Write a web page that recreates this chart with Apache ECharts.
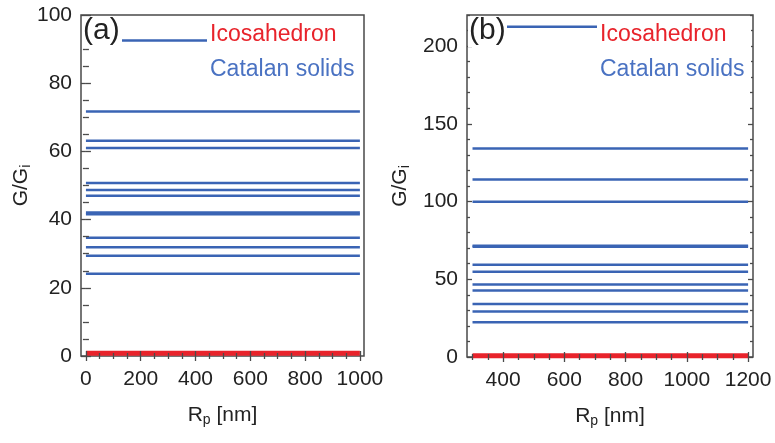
<!DOCTYPE html>
<html><head><meta charset="utf-8">
<script src="https://cdn.jsdelivr.net/npm/echarts@6/dist/echarts.min.js"></script>
<style>html,body{margin:0;padding:0;background:#fff}#c{width:775px;height:443px}</style>
</head><body><div id="c"></div>
<script>
// ---- data ----
const rangeA = [0, 1000];                       // R_p extent of lines, panel (a)
const catalanA = [92.5, 71.7, 63.1, 61.0, 50.7, 48.7, 47.0, 42.1, 41.6, 34.7, 31.9, 29.4, 24.1];
const icosaA = [0.8];
const rangeB = [300, 1200];                     // R_p extent of lines, panel (b)
const catalanB = [212.5, 134.1, 114.2, 99.8, 71.6, 70.9, 59.4, 54.9, 46.7, 42.7, 34.1, 29.2, 22.3];
const icosaB = [0.8];
const xTicksA = [0, 200, 400, 600, 800, 1000];
const yTicksA = [0, 20, 40, 60, 80, 100];
const xTicksB = [400, 600, 800, 1000, 1200];
const yTicksB = [0, 50, 100, 150, 200];
const legendLabels = ['Icosahedron', 'Catalan solids'];
const panelLabels = ['(a)', '(b)'];

const BLUE = '#3a64b4', RED = '#e8232b', FRAME = '#4a4a4a', TXT = '#222';
const FONT = '"Liberation Sans", Arial, sans-serif';

function minors(from, to, step, majors) {
  const r = [];
  for (let v = from; v <= to + 1e-9; v += step) if (!majors.includes(v)) r.push(v);
  return r;
}

const grids = [
  {left: 81, top: 15, width: 283, height: 341, show: true, borderColor: FRAME, borderWidth: 1.5},
  {left: 467, top: 15, width: 286, height: 342, show: true, borderColor: FRAME, borderWidth: 1.5}
];
const ext = [
  {x: [-18, 1015], y: [0, 100], xt: xTicksA, yt: yTicksA, xm: minors(0, 1000, 50, xTicksA), ym: minors(0, 100, 5, yTicksA)},
  {x: [282, 1216], y: [0, 220], xt: xTicksB, yt: yTicksB, xm: minors(300, 1200, 50, xTicksB), ym: minors(0, 220, 10, yTicksB)}
];
const nameRich = {
  n: {fontSize: 21, fontFamily: FONT, color: TXT},
  s: {fontSize: 14, fontFamily: FONT, color: TXT, padding: [9, 0, 0, 0]}
};

const xAxis = [], yAxis = [];
function tickAxis(arr, g, dim, pos, vals, len, labels, extra) {
  const e = ext[g];
  const a = Object.assign({
    type: 'value', gridIndex: g, position: pos,
    min: e[dim][0], max: e[dim][1],
    axisLine: {show: false}, splitLine: {show: false},
    axisTick: {show: true, inside: true, length: len, customValues: vals, lineStyle: {color: FRAME, width: 1.3}},
    axisLabel: labels ? {show: true, customValues: vals, formatter: v => String(v), fontSize: 21, fontFamily: FONT, color: TXT, margin: dim === 'x' ? 13 : 9} : {show: false},
    z: 5
  }, extra || {});
  arr.push(a);
  return arr.length - 1;
}
const mainX = [], mainY = [];
[0, 1].forEach(g => {
  const e = ext[g];
  mainX[g] = tickAxis(xAxis, g, 'x', 'bottom', e.xt, 5, true, {
    name: '{n|R}{s|p}{n| [nm]}', nameLocation: 'middle', nameGap: 48,
    nameTextStyle: {rich: nameRich}
  });
  tickAxis(xAxis, g, 'x', 'bottom', e.xm, 3, false);
  tickAxis(xAxis, g, 'x', 'top', e.xt, 5, false);
  tickAxis(xAxis, g, 'x', 'top', e.xm, 3, false);
  mainY[g] = tickAxis(yAxis, g, 'y', 'left', e.yt, 5, true, {
    name: '{n|G/G}{s|i}', nameLocation: 'middle', nameGap: g === 0 ? 43 : 55, nameRotate: 90,
    nameTextStyle: {rich: nameRich}
  });
  tickAxis(yAxis, g, 'y', 'left', e.ym, 3, false);
  tickAxis(yAxis, g, 'y', 'right', e.yt, 5, false);
  tickAxis(yAxis, g, 'y', 'right', e.ym, 3, false);
});

const series = [];
function addLines(g, range, vals, color, width) {
  vals.forEach(v => series.push({
    type: 'line', xAxisIndex: mainX[g], yAxisIndex: mainY[g],
    data: range.map(x => [x, v]), symbol: 'none', silent: true,
    lineStyle: {color: color, width: width}, z: 2
  }));
}
addLines(0, rangeA, catalanA, BLUE, 2.5);
addLines(0, rangeA, icosaA, RED, 5);
addLines(1, rangeB, catalanB, BLUE, 2.5);
addLines(1, rangeB, icosaB, RED, 5);

function txt(x, y, s, size, color) {
  return {type: 'text', left: x, top: y, z: 101,
    style: {text: s, fontSize: size, fontFamily: FONT, fontWeight: 'normal', fill: color}};
}
function annot(i, px, lw, rx, rw) {
  return [
    {type: 'rect', left: px - 1, top: 17, shape: {width: lw, height: 30}, style: {fill: '#fff'}, z: 100},
    txt(px, 16, panelLabels[i], 30, TXT),
    {type: 'rect', left: rx, top: 18, shape: {width: rw, height: 66}, style: {fill: '#fff'}, z: 100},
    txt(rx + 3, 23, legendLabels[0], 23, RED),
    txt(rx + 3, 58, legendLabels[1], 23, '#4a72c2')
  ];
}
const graphic = [].concat(annot(0, 83, 40, 207, 155), annot(1, 469, 39, 597, 154));

const chart = echarts.init(document.getElementById('c'), null, {renderer: 'canvas'});
chart.setOption({
  animation: false,
  backgroundColor: '#fff',
  grid: grids, xAxis: xAxis, yAxis: yAxis, series: series, graphic: graphic
});
</script></body></html>
